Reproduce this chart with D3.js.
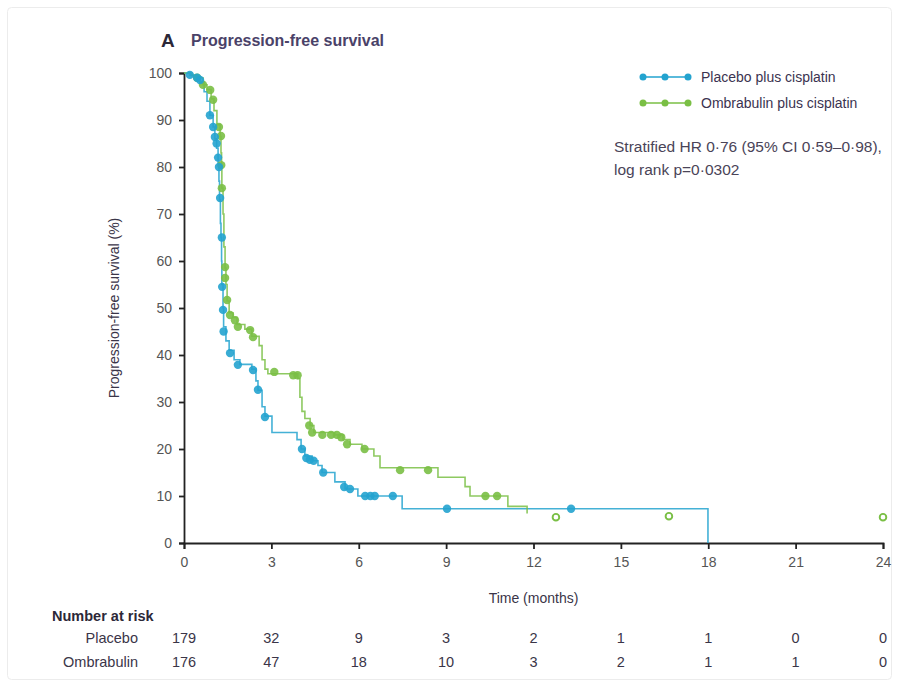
<!DOCTYPE html>
<html>
<head>
<meta charset="utf-8">
<script src="https://cdn.jsdelivr.net/npm/d3@7"></script>
<style>
  html, body { margin: 0; padding: 0; background: #fff; }
  svg { display: block; }
  text { font-family: "Liberation Sans Narrow", "Liberation Sans", sans-serif; }
</style>
</head>
<body>
<svg id="chart" width="897" height="685"></svg>
<script>
// ---------------- data ----------------
const xTicks = [0, 3, 6, 9, 12, 15, 18, 21, 24];
const yTicks = [0, 10, 20, 30, 40, 50, 60, 70, 80, 90, 100];

// Kaplan-Meier steps [months, survival %]
const placeboSteps = [
  [0, 100], [0.21, 99.5], [0.45, 99], [0.55, 98], [0.69, 96], [0.79, 94], [0.89, 91],
  [1.0, 88.5], [1.06, 86], [1.12, 84], [1.17, 81], [1.2, 77], [1.22, 73], [1.25, 68],
  [1.27, 65], [1.29, 60], [1.3, 55], [1.34, 50], [1.36, 46], [1.44, 43], [1.55, 41],
  [1.72, 39], [1.92, 38], [2.33, 37], [2.47, 34.5], [2.54, 32.5], [2.68, 29], [2.78, 27],
  [3.02, 23.5], [3.88, 22], [4.02, 20], [4.15, 18.5], [4.4, 17.5], [4.6, 16.5], [4.74, 15],
  [5.18, 13], [5.53, 11.5], [5.97, 10], [7.49, 7.3], [17.99, 0]
];
const ombrabulinSteps = [
  [0, 100], [0.27, 99.5], [0.45, 99], [0.65, 97.5], [0.79, 96.5], [0.93, 94.5], [1.03, 92],
  [1.13, 89], [1.24, 86.5], [1.27, 83], [1.29, 80], [1.3, 75.5], [1.34, 70], [1.37, 63],
  [1.41, 58.5], [1.44, 55], [1.48, 51.5], [1.55, 49], [1.68, 48], [1.82, 46.5], [2.09, 45.5],
  [2.33, 44], [2.58, 42], [2.68, 39], [2.78, 37], [2.88, 36], [3.91, 35], [3.98, 31],
  [4.05, 28], [4.15, 26.5], [4.33, 25], [4.46, 23.5], [5.18, 23], [5.46, 22], [5.7, 21],
  [6.11, 20], [6.52, 18.5], [6.73, 16], [8.72, 14], [9.65, 12], [9.82, 10], [11.12, 7.8],
  [11.78, 6.3]
];

// censor marks [months, survival %]
const placeboCensor = [
  [0.2, 99.6], [0.45, 99], [0.55, 98.5], [0.89, 91], [1.0, 88.5], [1.06, 86.4], [1.12, 85],
  [1.17, 82], [1.2, 80], [1.24, 73.4], [1.3, 65], [1.31, 54.5], [1.34, 49.6], [1.36, 45],
  [1.58, 40.4], [1.85, 37.9], [2.37, 36.8], [2.54, 32.6], [2.78, 26.8], [4.05, 20],
  [4.2, 18.1], [4.32, 17.7], [4.45, 17.5], [4.78, 15], [5.5, 11.9], [5.7, 11.5],
  [6.22, 10], [6.4, 10], [6.55, 10], [7.17, 10], [9.03, 7.3], [13.29, 7.3]
];
const ombrabulinCensor = [
  [0.45, 99], [0.65, 97.5], [0.9, 96.4], [1.0, 94.3], [1.2, 88.5], [1.27, 86.6],
  [1.28, 80.4], [1.3, 75.5], [1.41, 58.7], [1.41, 56.4], [1.48, 51.7], [1.58, 48.5],
  [1.75, 47.4], [1.85, 46], [2.27, 45.3], [2.37, 43.8], [3.1, 36.4], [3.75, 35.7],
  [3.9, 35.7], [4.3, 25], [4.4, 23.5], [4.75, 23], [5.05, 23], [5.25, 23], [5.4, 22.5],
  [5.6, 21], [6.2, 20], [7.42, 15.5], [8.38, 15.5], [10.35, 10], [10.75, 10]
];
// open circles (beyond the end of the drawn curve)
const ombrabulinOpen = [[12.77, 5.5], [16.65, 5.7], [24, 5.5]];

const riskGroups = ["Placebo", "Ombrabulin"];
const riskPlacebo = [179, 32, 9, 3, 2, 1, 1, 0, 0];
const riskOmbrabulin = [176, 47, 18, 10, 3, 2, 1, 1, 0];

const seriesNames = ["Placebo plus cisplatin", "Ombrabulin plus cisplatin"];
const statsLines = ["Stratified HR 0·76 (95% CI 0·59–0·98),", "log rank p=0·0302"];

// ---------------- drawing ----------------
const blue = "#23a3cf", green = "#7abf45";
const textCol = "#3a3548";
const svg = d3.select("#chart");

// faint frame
svg.append("rect").attr("x", 7.5).attr("y", 7.5).attr("width", 884).attr("height", 672)
  .attr("rx", 4).attr("fill", "none").attr("stroke", "#ececec");

const x = d3.scaleLinear().domain([0, 24]).range([184, 883]);
const y = d3.scaleLinear().domain([0, 100]).range([543, 73]);

// title
svg.append("text").attr("x", 161).attr("y", 47).attr("font-size", 19).attr("font-weight", "bold")
  .attr("fill", "#2c2838").text("A");
svg.append("text").attr("x", 191).attr("y", 46).attr("font-size", 16).attr("font-weight", "bold")
  .attr("fill", "#4a4268").text("Progression-free survival");

// axes
const yAxis = d3.axisLeft(y).tickValues(yTicks).tickSize(5).tickPadding(7);
const xAxis = d3.axisBottom(x).tickValues(xTicks).tickSize(6).tickPadding(8);

const gy = svg.append("g").attr("transform", `translate(${x(0)},0)`).call(yAxis);
const gx = svg.append("g").attr("transform", `translate(0,${y(0)})`).call(xAxis);
[gx, gy].forEach(g => {
  g.select(".domain").attr("stroke", "#222").attr("stroke-width", 1.8);
  g.selectAll(".tick line").attr("stroke", "#222").attr("stroke-width", 1.8);
  g.selectAll(".tick text").attr("fill", "#555").attr("font-size", 14)
    .style("font-family", "'Liberation Sans Narrow', 'Liberation Sans', sans-serif");
});

svg.append("text").attr("transform", `translate(119,${y(50)}) rotate(-90)`)
  .attr("text-anchor", "middle").attr("font-size", 14).attr("fill", textCol)
  .text("Progression-free survival (%)");
svg.append("text").attr("x", x(12)).attr("y", 603).attr("text-anchor", "middle")
  .attr("font-size", 14).attr("fill", textCol).text("Time (months)");

// curves
const line = d3.line().x(d => x(d[0])).y(d => y(d[1])).curve(d3.curveStepAfter);
const plot = svg.append("g");
plot.append("path").datum(placeboSteps).attr("d", line).attr("fill", "none")
  .attr("stroke", blue).attr("stroke-width", 1.6).attr("stroke-opacity", 0.85);
plot.append("path").datum(ombrabulinSteps).attr("d", line).attr("fill", "none")
  .attr("stroke", green).attr("stroke-width", 1.6).attr("stroke-opacity", 0.85);

plot.selectAll(".cg").data(ombrabulinCensor).join("circle").attr("class", "cg")
  .attr("cx", d => x(d[0])).attr("cy", d => y(d[1])).attr("r", 4.2)
  .attr("fill", green).attr("fill-opacity", 0.9);
plot.selectAll(".cb").data(placeboCensor).join("circle").attr("class", "cb")
  .attr("cx", d => x(d[0])).attr("cy", d => y(d[1])).attr("r", 4.2)
  .attr("fill", blue).attr("fill-opacity", 0.9);
plot.selectAll(".co").data(ombrabulinOpen).join("circle").attr("class", "co")
  .attr("cx", d => x(d[0])).attr("cy", d => y(d[1])).attr("r", 3.3)
  .attr("fill", "#fff").attr("stroke", green).attr("stroke-width", 1.9);

// legend
const legend = svg.append("g");
[blue, green].forEach((c, i) => {
  const ly = 77 + i * 26;
  legend.append("line").attr("x1", 641).attr("x2", 690).attr("y1", ly).attr("y2", ly)
    .attr("stroke", c).attr("stroke-width", 1.6);
  [643, 665, 688].forEach(cx => legend.append("circle").attr("cx", cx).attr("cy", ly)
    .attr("r", 3.5).attr("fill", c));
  legend.append("text").attr("x", 701).attr("y", ly + 5).attr("font-size", 14)
    .attr("fill", "#3b3350").text(seriesNames[i]);
});
statsLines.forEach((t, i) => {
  svg.append("text").attr("x", 614).attr("y", 152 + i * 23).attr("font-size", 15.5)
    .attr("fill", "#4a4458").text(t);
});

// number at risk
svg.append("text").attr("x", 52).attr("y", 621).attr("font-size", 14.5).attr("font-weight", "bold")
  .attr("fill", "#2c2838").text("Number at risk");
[riskPlacebo, riskOmbrabulin].forEach((row, i) => {
  const ry = 643 + i * 24;
  svg.append("text").attr("x", 138).attr("y", ry).attr("text-anchor", "end")
    .attr("font-size", 14.5).attr("fill", textCol).text(riskGroups[i]);
  svg.append("g").selectAll("text").data(row).join("text")
    .attr("x", (d, j) => x(xTicks[j])).attr("y", ry).attr("text-anchor", "middle")
    .attr("font-size", 14.5).attr("fill", textCol).text(d => d);
});
</script>
</body>
</html>
